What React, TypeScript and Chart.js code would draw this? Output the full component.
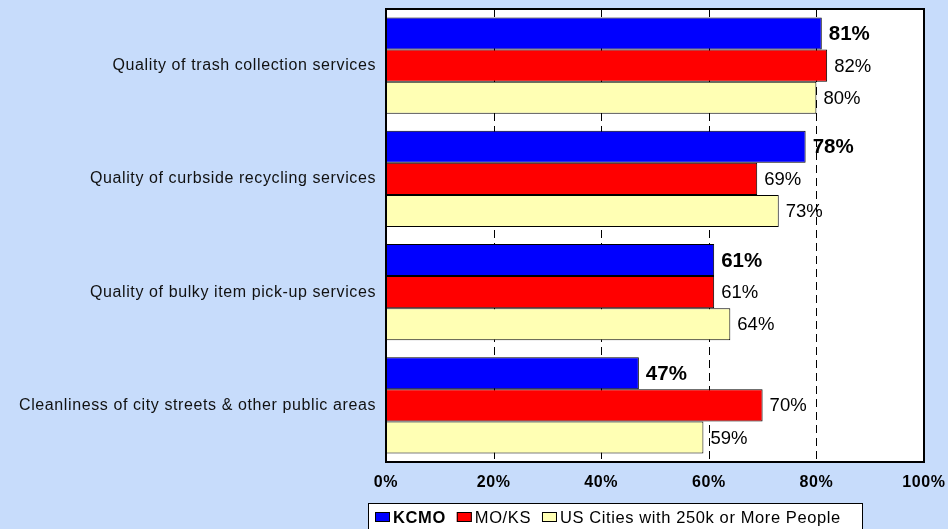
import { useEffect, useRef } from "react";
import { Chart, registerables } from "chart.js";

Chart.register(...registerables);

// Survey results: share of respondents satisfied, by service
const categories = [
  "Quality of trash collection services",
  "Quality of curbside recycling services",
  "Quality of bulky item pick-up services",
  "Cleanliness of city streets & other public areas",
];
const seriesNames = ["KCMO", "MO/KS", "US Cities with 250k or More People"];
const kcmo = [81, 78, 61, 47];
const moks = [82, 69, 61, 70];
const usCities = [80, 73, 64, 59];
const xTickValues = [0, 20, 40, 60, 80, 100];

const seriesColors = ["#0000ff", "#ff0000", "#ffffb4"];
const PAGE_BG = "#c7dcfb";
const FONT = "'Liberation Sans', Arial, Helvetica, sans-serif";
const TEXT_SPACING = "0.6px";

const plotBackground = {
  id: "plotBackground",
  beforeDraw(chart: any) {
    const { ctx, chartArea: a } = chart;
    ctx.fillStyle = "#ffffff";
    ctx.fillRect(a.left, a.top, a.right - a.left, a.bottom - a.top);
    // slightly looser text for the axis labels
    ctx.letterSpacing = TEXT_SPACING;
  },
};

const dashedGrid = {
  id: "dashedGrid",
  beforeDatasetsDraw(chart: any) {
    const { ctx, chartArea: a } = chart;
    const xs = chart.scales.x;
    ctx.save();
    ctx.strokeStyle = "#000000";
    ctx.lineWidth = 1;
    ctx.setLineDash([8, 5]);
    xTickValues.slice(1, -1).forEach((v) => {
      const px = Math.round(xs.getPixelForValue(v)) + 0.5;
      ctx.beginPath();
      ctx.moveTo(px, a.top);
      ctx.lineTo(px, a.bottom);
      ctx.stroke();
    });
    ctx.restore();
  },
};

const frameAndLabels = {
  id: "frameAndLabels",
  afterDatasetsDraw(chart: any) {
    const { ctx, chartArea: a } = chart;
    ctx.save();
    ctx.strokeStyle = "#000000";
    ctx.lineWidth = 2;
    ctx.strokeRect(a.left, a.top, a.right - a.left, a.bottom - a.top);

    ctx.letterSpacing = "0px";
    ctx.fillStyle = "#000000";
    ctx.textAlign = "left";
    ctx.textBaseline = "middle";
    chart.data.datasets.forEach((ds: any, di: number) => {
      const meta = chart.getDatasetMeta(di);
      ctx.font = di === 0 ? `bold 20.5px ${FONT}` : `18.5px ${FONT}`;
      meta.data.forEach((el: any, i: number) => {
        ctx.fillText(`${ds.data[i]}%`, el.x + 7, el.y + 1);
      });
    });
    ctx.restore();
  },
};

const boxedLegend = {
  id: "boxedLegend",
  afterDraw(chart: any) {
    const { ctx } = chart;
    const left = 368;
    const right = 862;
    const top = 503;
    const cy = 517;
    ctx.save();
    ctx.letterSpacing = TEXT_SPACING;
    ctx.fillStyle = "#ffffff";
    ctx.fillRect(left, top, right - left, 40);
    ctx.strokeStyle = "#000000";
    ctx.lineWidth = 1;
    ctx.strokeRect(left + 0.5, top + 0.5, right - left, 40);

    let x = left + 7;
    seriesNames.forEach((name, i) => {
      ctx.fillStyle = seriesColors[i];
      ctx.fillRect(x, cy - 5, 15, 10);
      ctx.strokeStyle = "#000000";
      ctx.strokeRect(x + 0.5, cy - 5 + 0.5, 14, 9);
      x += 18;
      ctx.font = i === 0 ? `bold 16.5px ${FONT}` : `16.5px ${FONT}`;
      ctx.fillStyle = "#000000";
      ctx.textAlign = "left";
      ctx.textBaseline = "middle";
      ctx.fillText(name, x, cy + 1);
      x += ctx.measureText(name).width + 11;
    });
    ctx.restore();
    ctx.letterSpacing = "0px";
  },
};

export default function App() {
  const canvasRef = useRef<HTMLCanvasElement>(null);

  useEffect(() => {
    if (!canvasRef.current) return;
    const chart = new Chart(canvasRef.current, {
      type: "bar",
      data: {
        labels: categories,
        datasets: [kcmo, moks, usCities].map((values, i) => ({
          label: seriesNames[i],
          data: values,
          backgroundColor: seriesColors[i],
          borderColor: "#000000",
          borderWidth: 1,
          borderSkipped: false,
          categoryPercentage: 0.85,
          barPercentage: 1.0,
        })),
      },
      options: {
        indexAxis: "y",
        animation: false,
        responsive: true,
        maintainAspectRatio: false,
        devicePixelRatio: 1,
        layout: { padding: { top: 9, right: 24, left: 0, bottom: 0 } },
        plugins: {
          legend: { display: false },
          tooltip: { enabled: false },
        },
        scales: {
          x: {
            min: 0,
            max: 100,
            afterFit: (s: any) => {
              s.height = 67;
              s.paddingLeft = 0;
              s.paddingRight = 0;
            },
            afterBuildTicks: (s: any) => {
              s.ticks = xTickValues.map((v) => ({ value: v }));
            },
            grid: { display: false, drawTicks: false },
            border: { display: false },
            ticks: {
              padding: 11,
              color: "#000000",
              font: { family: FONT, size: 16, weight: "bold" },
              callback: (v: any) => `${v}%`,
            },
          },
          y: {
            afterFit: (s: any) => {
              s.width = 386;
              s.paddingTop = 0;
              s.paddingBottom = 0;
            },
            grid: { display: false, drawTicks: false },
            border: { display: false },
            ticks: {
              padding: 10,
              color: "#111111",
              font: { family: FONT, size: 16 },
            },
          },
        },
      },
      plugins: [plotBackground, dashedGrid, frameAndLabels, boxedLegend],
    });
    return () => chart.destroy();
  }, []);

  return (
    <div
      style={{
        position: "fixed",
        left: 0,
        top: 0,
        width: 948,
        height: 529,
        background: PAGE_BG,
        overflow: "hidden",
      }}
    >
      <canvas ref={canvasRef} />
    </div>
  );
}
